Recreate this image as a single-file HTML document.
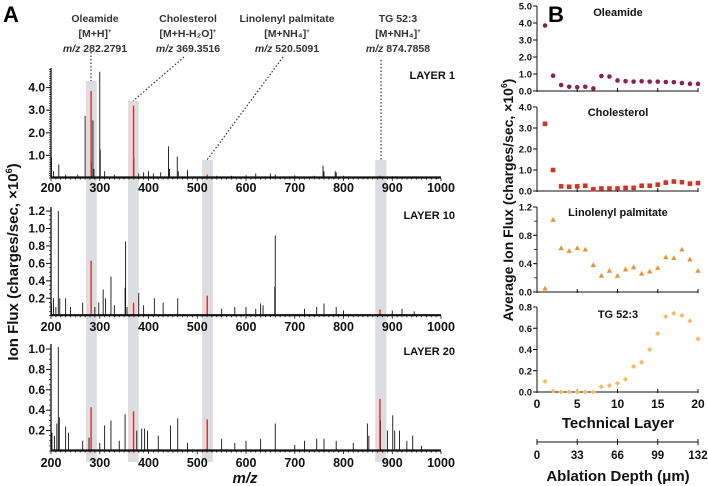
<!DOCTYPE html>
<html><head><meta charset="utf-8"><style>
body{margin:0;background:#fff}
svg{display:block;font-family:"Liberation Sans",Arial,sans-serif;font-weight:bold}
</style></head><body>
<svg id="fig" width="708" height="486" viewBox="0 0 708 486">
<text x="3" y="22" font-size="22">A</text>
<text x="548" y="22" font-size="22">B</text>
<g id="A"></g>
<g id="B"></g>
</svg>
<script>
// ---------- Panel A data ----------
const mzTicks = [200,300,400,500,600,700,800,900,1000];
const layer1Peaks = [[201,0.9],[205,0.3],[216,0.6],[230,0.15],[255,0.15],[270,2.75],[283,0.7],[286,2.55],[288,0.4],[300,4.7],[301,1.25],[310,0.3],[330,0.15],[370,0.9],[380,0.2],[390,0.25],[400,0.3],[410,0.2],[425,0.25],[441,1.4],[443,0.4],[459,0.95],[461,0.3],[480,0.35],[540,0.1],[570,0.1],[600,0.12],[620,0.2],[650,0.2],[660,0.15],[700,0.12],[740,0.1],[758,0.55],[760,0.3],[783,0.3],[785,0.25],[800,0.1],[900,0.08],[950,0.05]];
const layer1Red = [[282.28,3.85],[369.35,3.2],[520.5,0.15],[874.8,0.1]];
const layer10Peaks = [[201,0.15],[205,0.2],[210,0.1],[215,1.2],[218,0.2],[230,0.2],[240,0.1],[265,0.15],[290,0.1],[298,0.15],[307,0.3],[312,0.2],[323,0.45],[330,0.12],[352,0.32],[353,0.85],[356,0.1],[380,0.26],[390,0.12],[412,0.2],[430,0.15],[460,0.2],[550,0.08],[577,0.1],[600,0.1],[620,0.08],[630,0.14],[635,0.12],[659,0.33],[660,0.92],[720,0.08],[745,0.1],[760,0.14],[785,0.1],[800,0.06],[900,0.06],[920,0.08],[945,0.05]];
const layer10Red = [[282.28,0.63],[369.35,0.15],[520.5,0.23],[874.8,0.07]];
const layer20Peaks = [[202,0.18],[207,0.15],[212,0.27],[215,1.02],[217,0.33],[230,0.24],[236,0.18],[265,0.1],[278,0.13],[300,0.08],[310,0.25],[323,0.3],[340,0.1],[352,0.36],[376,0.2],[386,0.22],[392,0.22],[398,0.2],[420,0.15],[445,0.25],[460,0.32],[480,0.08],[550,0.12],[577,0.08],[600,0.1],[630,0.12],[660,0.27],[700,0.06],[720,0.1],[745,0.12],[760,0.12],[785,0.1],[820,0.08],[849,0.27],[852,0.15],[876,0.3],[890,0.2],[901,0.35],[905,0.2],[915,0.2],[930,0.1],[942,0.15],[960,0.05]];
const layer20Red = [[282.28,0.43],[369.35,0.39],[520.5,0.31],[874.8,0.51]];
const layer1Ticks = ["1.0","2.0","3.0","4.0"];
const layer10Ticks = ["0.2","0.4","0.6","0.8","1.0","1.2"];
const layer20Ticks = ["0.2","0.4","0.6","0.8","1.0"];

// ---------- Panel B data ----------
const techLayers = [1,2,3,4,5,6,7,8,9,10,11,12,13,14,15,16,17,18,19,20];
const oleamide = [3.85,0.9,0.35,0.25,0.22,0.25,0.15,0.88,0.85,0.62,0.58,0.55,0.57,0.55,0.55,0.53,0.52,0.47,0.42,0.42];
const cholesterol = [3.2,1.0,0.22,0.2,0.22,0.25,0.08,0.12,0.12,0.12,0.15,0.15,0.25,0.25,0.3,0.4,0.45,0.42,0.35,0.38];
const linolenyl = [0.05,1.02,0.62,0.58,0.62,0.6,0.38,0.23,0.3,0.23,0.32,0.35,0.26,0.29,0.34,0.49,0.48,0.6,0.46,0.3];
const tg523 = [0.1,0.01,0,0,0,0,0,0.05,0.06,0.08,0.12,0.24,0.28,0.4,0.55,0.71,0.74,0.72,0.67,0.5];
const layerTicks = [0,5,10,15,20];
const depthTicks = [0,33,66,99,132];

const NS="http://www.w3.org/2000/svg";
function mk(parent,tag,attrs,text){const e=document.createElementNS(NS,tag);for(const k in attrs)e.setAttribute(k,attrs[k]);if(text!==undefined)e.textContent=text;parent.appendChild(e);return e;}
const A=document.getElementById('A'), B=document.getElementById('B');
const xA = mz => 51 + (mz-200)*(390/800);

const bands=[[272,294,81],[358,380,101],[510,532,160],[865,888,160]];
bands.forEach(b=>{const r=mk(A,'rect',{x:xA(b[0]),y:b[2],width:xA(b[1])-xA(b[0]),height:462-b[2],fill:'#dcdde0'});

});

const ann=[[95,"Oleamide","[M+H]","+","282.2791",[[91,52],[91,81]]],
[188,"Cholesterol","[M+H-H\u2082O]","+","369.3516",[[184,57],[133,101]]],
[287,"Linolenyl palmitate","[M+NH\u2084]","+","520.5091",[[283,57],[207,160]]],
[398,"TG 52:3","[M+NH\u2084]","+","874.7858",[[381,60],[381,160]]]];
ann.forEach(a=>{
 const g=mk(A,'g',{});
 
 
 mk(g,'text',{x:a[0],y:22,'font-size':10.5,'text-anchor':'middle',fill:'#333'},a[1]);
 const t2=mk(g,'text',{x:a[0],y:37,'font-size':10.5,'text-anchor':'middle',fill:'#333'},a[2]);
 mk(t2,'tspan',{'font-size':6,dy:-4},a[3]);
 const t3=mk(g,'text',{x:a[0],y:52,'font-size':10.5,'text-anchor':'middle',fill:'#333'});
 mk(t3,'tspan',{'font-style':'italic'},'m/z');mk(t3,'tspan',{},' '+a[4]);
 mk(g,'line',{x1:a[5][0][0],y1:a[5][0][1],x2:a[5][1][0],y2:a[5][1][1],stroke:'#333','stroke-width':1.2,'stroke-dasharray':'1.5,2'});
});

function spectrum(name,base,unit,top,peaks,red,ticks,label,labelY,tickLblY){
 const g=mk(A,'g',{});
 
 
 const y=v=>base-v*unit;
 peaks.forEach(p=>{const l=mk(g,'line',{x1:xA(p[0]),x2:xA(p[0]),y1:base,y2:y(p[1]),stroke:'#111','stroke-width':0.9});
  
  });
 red.forEach(p=>{const l=mk(g,'line',{x1:xA(p[0]),x2:xA(p[0]),y1:base,y2:y(p[1]),stroke:'#e3262b','stroke-width':1.4});
  
  });
 mk(g,'line',{x1:51,x2:441,y1:base-0.5,y2:base-0.5,stroke:'#111','stroke-width':2.2});
 mk(g,'line',{x1:51,x2:51,y1:top,y2:base,stroke:'#111','stroke-width':1.3});
 for(let m=200;m<=1000;m+=10){mk(g,'line',{x1:xA(m),x2:xA(m),y1:base,y2:base+(m%100===0?3:1.6),stroke:'#111','stroke-width':0.8});}
 for(let yy=base;yy>=top;yy-=unit/10*(unit>40?0.5:1)){mk(g,'line',{x1:49,x2:51,y1:yy,y2:yy,stroke:'#111','stroke-width':0.7});}
 mzTicks.forEach(m=>{const t=mk(g,'text',{x:xA(m),y:tickLblY,'font-size':12.5,'text-anchor':'middle',fill:'#111'},m);
  
  });
 ticks.forEach(s=>{const v=parseFloat(s);mk(g,'line',{x1:46,x2:51,y1:y(v),y2:y(v),stroke:'#111','stroke-width':1});
  const t=mk(g,'text',{x:45,y:y(v)+4,'font-size':12,'text-anchor':'end',fill:'#111'},s);
  
  });
 const lt=mk(g,'text',{x:455,y:labelY,'font-size':11,'text-anchor':'end',fill:'#111'},label);
 
 
}
spectrum('spectrum-layer-1',178,22.6,68,layer1Peaks,layer1Red,layer1Ticks,'LAYER 1',79,192);
spectrum('spectrum-layer-10',315.7,87.2,207,layer10Peaks,layer10Red,layer10Ticks,'LAYER 10',219,331);
spectrum('spectrum-layer-20',451,102,344,layer20Peaks,layer20Red,layer20Ticks,'LAYER 20',355,467);

const yt=mk(A,'text',{x:0,y:0,'font-size':15,'text-anchor':'middle',fill:'#111',transform:'translate(18,262) rotate(-90)'});


yt.textContent='Ion Flux (charges/sec, \u00d710';
mk(yt,'tspan',{'font-size':9,dy:-6},'6');mk(yt,'tspan',{dy:6},')');
const xt=mk(A,'text',{x:245,y:483,'font-size':15,'text-anchor':'middle','font-style':'italic',fill:'#111'},'m/z');



// ---------- Panel B ----------
const xB = L => 537 + L*8.05;
function scatter(name,title,top,base,max,vals,tickVals,minorStep,shape,color,titleY){
 const g=mk(B,'g',{});
 
 
 const y=v=>base-(v/max)*(base-top);
 mk(g,'line',{x1:537,x2:537,y1:top,y2:base,stroke:'#111','stroke-width':1});
 mk(g,'line',{x1:537,x2:698,y1:base,y2:base,stroke:'#111','stroke-width':1});
 layerTicks.forEach(L=>mk(g,'line',{x1:xB(L),x2:xB(L),y1:base-3,y2:base+1,stroke:'#111','stroke-width':1}));
 for(let v=0;v<=max+1e-9;v+=minorStep){mk(g,'line',{x1:534,x2:537,y1:y(v),y2:y(v),stroke:'#111','stroke-width':0.8});}
 tickVals.forEach(v=>{mk(g,'line',{x1:533,x2:537,y1:y(v),y2:y(v),stroke:'#111','stroke-width':1});
  const t=mk(g,'text',{x:532,y:y(v)+3.5,'font-size':9.5,'text-anchor':'end',fill:'#111'},v.toFixed(1));
  
  });
 const tt=mk(g,'text',{x:618,y:titleY,'font-size':11,'text-anchor':'middle',fill:'#111'},title);
 
 
 vals.forEach((v,i)=>{const cx=xB(techLayers[i]),cy=y(v);let m;
  if(shape==='circle')m=mk(g,'circle',{cx:cx,cy:cy,r:2.3,fill:color});
  else if(shape==='square')m=mk(g,'rect',{x:cx-2.3,y:cy-2.3,width:4.6,height:4.6,fill:color});
  else if(shape==='tri')m=mk(g,'polygon',{points:`${cx},${cy-2.8} ${cx-2.7},${cy+2} ${cx+2.7},${cy+2}`,fill:color});
  else m=mk(g,'polygon',{points:`${cx},${cy-2.6} ${cx+2.6},${cy} ${cx},${cy+2.6} ${cx-2.6},${cy}`,fill:color});
  
  });
}
scatter('oleamide-plot','Oleamide',6,91,5,oleamide,[0,1,2,3,4,5],1,'circle','#8e1f4f',16);
scatter('cholesterol-plot','Cholesterol',107,191,4,cholesterol,[0,1,2,3,4],1,'square','#cf3428',116);
scatter('linolenyl-palmitate-plot','Linolenyl palmitate',207,292,1.2,linolenyl,[0,0.4,0.8,1.2],0.2,'tri','#f0912e',216);
scatter('tg-52-3-plot','TG 52:3',307,392,0.8,tg523,[0,0.2,0.4,0.6,0.8],0.2,'diamond','#f7bb64',318);

layerTicks.forEach(L=>{const t=mk(B,'text',{x:xB(L),y:408,'font-size':12,'text-anchor':'middle',fill:'#111'},L);
 
 });
const tl=mk(B,'text',{x:618,y:428,'font-size':15,'text-anchor':'middle',fill:'#111'},'Technical Layer');


const xD=d=>537+d*(161/132);
mk(B,'line',{x1:537,x2:698,y1:442,y2:442,stroke:'#111','stroke-width':1});
depthTicks.forEach(d=>{mk(B,'line',{x1:xD(d),x2:xD(d),y1:439,y2:445,stroke:'#111','stroke-width':1});
 const t=mk(B,'text',{x:xD(d),y:459,'font-size':11.5,'text-anchor':'middle',fill:'#111'},d);
 
 });
const ad=mk(B,'text',{x:618,y:481,'font-size':15,'text-anchor':'middle',fill:'#111'},'Ablation Depth (\u03bcm)');


const by=mk(B,'text',{x:0,y:0,'font-size':14,'text-anchor':'middle',fill:'#111',transform:'translate(513,200) rotate(-90)'});


by.textContent='Average Ion Flux (charges/sec, \u00d710';
mk(by,'tspan',{'font-size':8.5,dy:-6},'6');mk(by,'tspan',{dy:6},')');
</script>
</body></html>
